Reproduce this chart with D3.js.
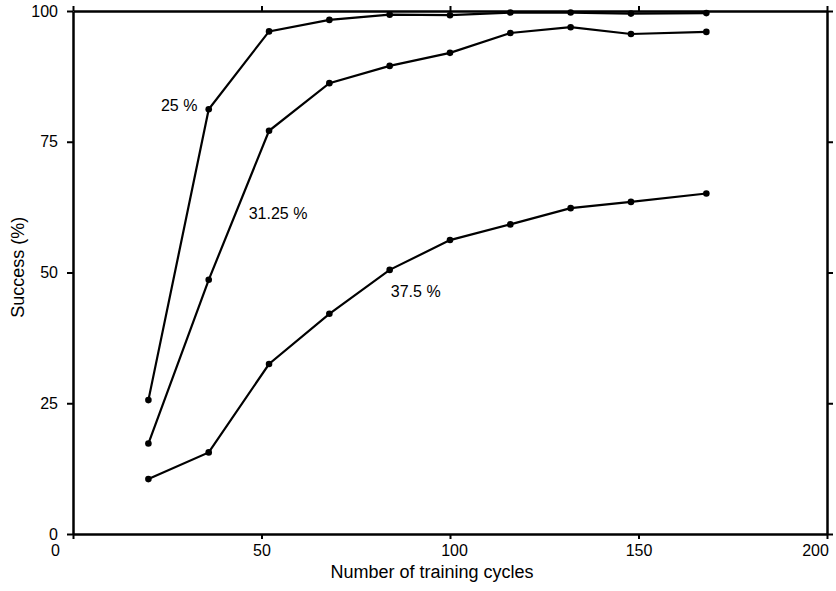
<!DOCTYPE html>
<html>
<head>
<meta charset="utf-8">
<script src="https://cdn.jsdelivr.net/npm/d3@7"></script>
<style>
  body { margin: 0; background: #fff; }
  svg text { font-family: "Liberation Sans", Arial, sans-serif; fill: #000; }
  .frame path.domain { stroke: #000; stroke-width: 2.5; }
  .frame .tick line { stroke: #000; stroke-width: 2; }
  .frame .tick text { font-size: 16px; }
  .serie { fill: none; stroke: #000; stroke-width: 2.2; }
</style>
</head>
<body>
<div id="chart"></div>
<script>
// training cycles
var cycles = [20, 36, 52, 68, 84, 100, 116, 132, 148, 168];
// success (%) per noise level
var s25 = [25.6, 81.2, 96.1, 98.3, 99.3, 99.2, 99.7, 99.7, 99.5, 99.6];
var s3125 = [17.3, 48.6, 77.1, 86.2, 89.5, 92.0, 95.8, 96.9, 95.6, 96.0];
var s375 = [10.5, 15.6, 32.5, 42.1, 50.5, 56.2, 59.2, 62.3, 63.5, 65.1];
var serieNames = ["25 %", "31.25 %", "37.5 %"];
// where each curve label sits, in data units
var labelX = [33, 46.6, 84.3];
var labelY = [80.9, 60.2, 45.4];
var labelAnchor = ["end", "start", "start"];
var xTicks = [0, 50, 100, 150, 200];
var yTicks = [0, 25, 50, 75, 100];

(function () {
  'use strict'
  var W = 836, H = 591;
  var margin = {top: 11, right: 9, bottom: 57, left: 73};

  var svg = d3.select("#chart").append("svg")
    .attr("width", W).attr("height", H);

  var x = d3.scaleLinear().domain([0, 200]).range([margin.left, W - margin.right]);
  var y = d3.scaleLinear().domain([0, 100]).range([H - margin.bottom, margin.top]);

  // bottom axis
  var gx = svg.append("g").attr("class", "frame")
    .attr("transform", "translate(0," + y(0) + ")")
    .call(d3.axisBottom(x).tickValues(xTicks).tickSize(5).tickSizeOuter(0).tickPadding(6));
  // end labels sit inside the frame like on the original plot
  gx.selectAll(".tick text")
    .attr("dx", function(d) { return d == 0 ? -18 : (d == 200 ? -12 : (d == 100 ? 4 : 0)); });
  // top axis (no labels)
  svg.append("g").attr("class", "frame")
    .attr("transform", "translate(0," + y(100) + ")")
    .call(d3.axisTop(x).tickValues(xTicks).tickSize(5).tickSizeOuter(0).tickFormat(""));
  // left axis
  svg.append("g").attr("class", "frame")
    .attr("transform", "translate(" + x(0) + ",0)")
    .call(d3.axisLeft(y).tickValues(yTicks).tickSize(6).tickSizeOuter(0).tickPadding(9));
  // right axis (no labels)
  svg.append("g").attr("class", "frame")
    .attr("transform", "translate(" + x(200) + ",0)")
    .call(d3.axisRight(y).tickValues(yTicks).tickSize(6).tickSizeOuter(0).tickFormat(""));

  var series = [s25, s3125, s375];
  var line = d3.line()
    .x(function(d) { return x(d[0]); })
    .y(function(d) { return y(d[1]); });

  series.forEach(function(vals, k) {
    var pts = cycles.map(function(c, i) { return [c, vals[i]]; });
    svg.append("path").attr("class", "serie").attr("d", line(pts));
    svg.append("g").selectAll("circle")
      .data(pts).enter().append("circle")
      .attr("cx", function(d) { return x(d[0]); })
      .attr("cy", function(d) { return y(d[1]); })
      .attr("r", 3.3)
      .attr("fill", "#000");
    svg.append("text")
      .attr("x", x(labelX[k]))
      .attr("y", y(labelY[k]))
      .attr("text-anchor", labelAnchor[k])
      .style("font-size", "16px")
      .text(serieNames[k]);
  });

  // axis titles
  svg.append("text")
    .attr("x", x(100) - 18)
    .attr("y", H - 13)
    .attr("text-anchor", "middle")
    .style("font-size", "18px")
    .text("Number of training cycles");

  svg.append("text")
    .attr("transform", "translate(24," + y(51) + ") rotate(-90)")
    .attr("text-anchor", "middle")
    .style("font-size", "18px")
    .text("Success (%)");
})()
</script>
</body>
</html>
